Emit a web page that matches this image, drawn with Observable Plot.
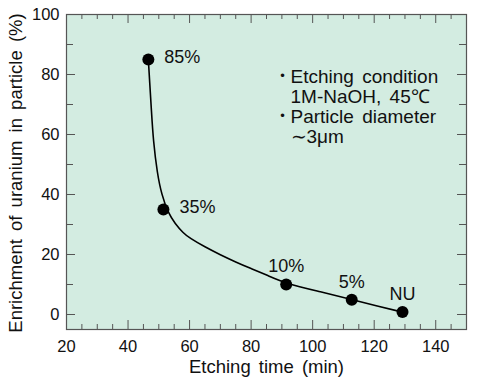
<!DOCTYPE html>
<html>
<head>
<meta charset="utf-8">
<script src="https://cdn.jsdelivr.net/npm/d3@7"></script>
<script src="https://cdn.jsdelivr.net/npm/@observablehq/plot@0.6"></script>
<style>
  html, body { margin: 0; padding: 0; background: #ffffff; }
  svg text { word-spacing: 3px; }
</style>
</head>
<body>
<div id="chart"></div>
<script>
// Measured points
const times = [46.6, 51.5, 91.4, 112.7, 129.2];
const enrichment = [85, 35, 10, 4.9, 0.8];
const pointLabels = ["85%", "35%", "10%", "5%", "NU"];

// Fitted curve
const curveTime = [46.6, 47.0, 47.6, 48.2, 49.5, 50.9, 53.1, 55.3, 57.9, 60, 65, 70, 75, 80, 85, 91.4, 102, 112.7, 121, 129.2];
const curveEnrichment = [85, 78, 68, 58, 47, 40, 33.7, 30.3, 27.2, 25.5, 22.5, 19.9, 17.5, 15.3, 13.2, 10.3, 7.7, 5.0, 2.8, 0.8];

// Axes
const xTickLabels = [20, 40, 60, 80, 100, 120, 140];
const yTickLabels = [0, 20, 40, 60, 80, 100];
const xMinorTicks = [25, 30, 35, 45, 50, 55, 65, 70, 75, 85, 90, 95, 105, 110, 115, 125, 130, 135, 145];
const yMinorTicks = [10, 30, 50, 70, 90];
const xTitle = "Etching time (min)";
const yTitle = "Enrichment of uranium in particle (%)";
const noteLines = ["Etching condition", "1M-NaOH, 45℃", "Particle diameter", "∼3μm"];
const noteBullets = [true, false, true, false];

const points = times.map((t, i) => ({t, e: enrichment[i], label: pointLabels[i], i}));
const curve = curveTime.map((t, i) => ({t, e: curveEnrichment[i]}));

const W = 480, H = 383, mL = 66, mR = 14, mT = 14, mB = 54;
const innerW = W - mL - mR, innerH = H - mT - mB;
const bg = "#d3ece1";
const ink = "#111";
const frameInk = "#555";
const font = "'Liberation Sans', Arial, Helvetica, sans-serif";
const noteDy = [62, 82.3, 102.6, 122.3];

const noteMarks = noteLines.flatMap((line, i) => {
  const m = [Plot.text([line], {text: d => d, frameAnchor: "top-left", textAnchor: "start", lineAnchor: "middle", dx: 224, dy: noteDy[i], fontSize: 19, fill: ink})];
  if (noteBullets[i]) m.push(Plot.text(["•"], {text: d => d, frameAnchor: "top-left", textAnchor: "middle", lineAnchor: "middle", dx: 216, dy: noteDy[i] - 1, fontSize: 13, fill: ink}));
  return m;
});

const chart = Plot.plot({
  width: W, height: H,
  marginLeft: mL, marginRight: mR, marginTop: mT, marginBottom: mB,
  style: {fontFamily: font, background: "#ffffff", color: ink},
  x: {domain: [20, 150], axis: null},
  y: {domain: [-5, 100], axis: null},
  marks: [
    Plot.frame({fill: bg, stroke: null}),
    // inward ticks: bottom & top
    Plot.ruleX(xMinorTicks, {x: d => d, insetTop: innerH - 5, stroke: frameInk}),
    Plot.ruleX(xTickLabels, {x: d => d, insetTop: innerH - 9, stroke: frameInk}),
    Plot.ruleX(xMinorTicks, {x: d => d, insetBottom: innerH - 5, stroke: frameInk}),
    Plot.ruleX(xTickLabels, {x: d => d, insetBottom: innerH - 9, stroke: frameInk}),
    // inward ticks: left & right
    Plot.ruleY(yMinorTicks, {y: d => d, insetRight: innerW - 7, stroke: frameInk}),
    Plot.ruleY(yTickLabels, {y: d => d, insetRight: innerW - 9, stroke: frameInk}),
    Plot.ruleY(yMinorTicks, {y: d => d, insetLeft: innerW - 7, stroke: frameInk}),
    Plot.ruleY(yTickLabels, {y: d => d, insetLeft: innerW - 9, stroke: frameInk}),
    Plot.frame({stroke: frameInk, strokeWidth: 1.2}),
    // tick labels
    Plot.axisX({ticks: xTickLabels, tickSize: 0, tickPadding: 11, fontSize: 16.5, label: null, fill: ink}),
    Plot.axisY({ticks: yTickLabels, tickSize: 0, tickPadding: 7, fontSize: 16.5, label: null, fill: ink}),
    // titles
    Plot.text([xTitle], {text: d => d, frameAnchor: "bottom", dy: 43, fontSize: 18.5, fill: ink}),
    Plot.text([yTitle], {text: d => d, frameAnchor: "left", textAnchor: "middle", rotate: -90, dx: -50, dy: 1, fontSize: 18.5, fill: ink}),
    // curve and points
    Plot.line(curve, {x: "t", y: "e", curve: "basis", stroke: "#000", strokeWidth: 1.6}),
    Plot.dot(points, {x: "t", y: "e", r: 6, fill: "#000", stroke: null}),
    Plot.text(points.filter(d => d.i < 2), {x: "t", y: "e", text: "label", textAnchor: "start", dx: 16, dy: -2, fontSize: 18, fill: ink}),
    Plot.text(points.filter(d => d.i >= 2), {x: "t", y: "e", text: "label", dy: -18, fontSize: 18, fill: ink}),
    // note block
    ...noteMarks
  ]
});
document.getElementById("chart").appendChild(chart);
</script>
</body>
</html>
